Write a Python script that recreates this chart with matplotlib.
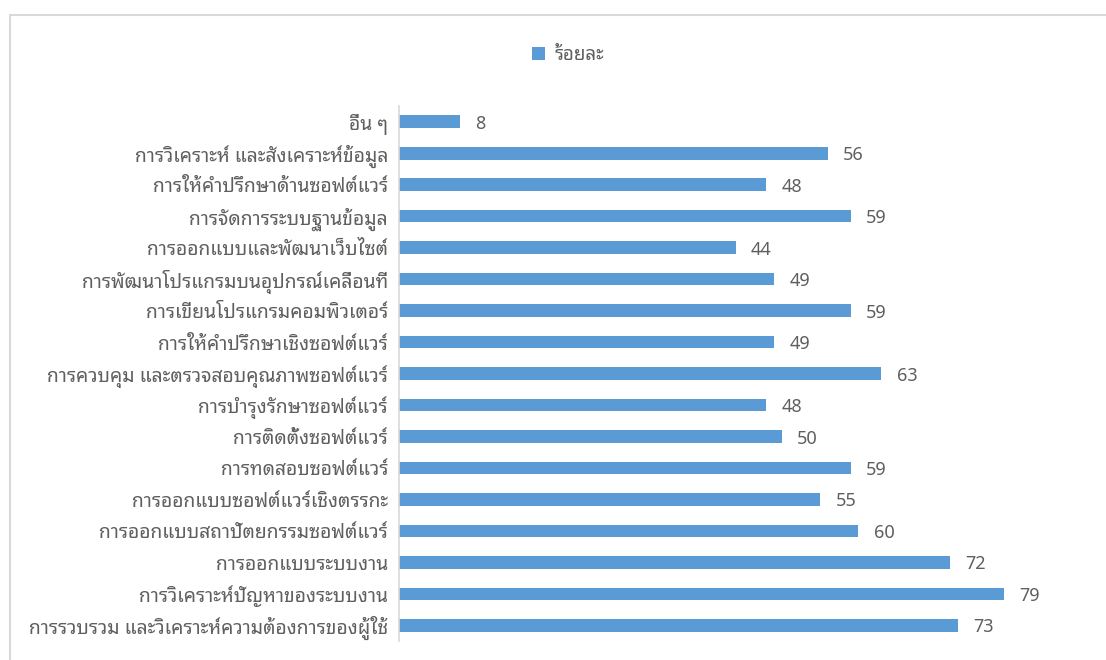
import matplotlib
matplotlib.use("Agg")
import matplotlib.pyplot as plt
from matplotlib.patches import Rectangle

categories = [
    "การรวบรวม และวิเคราะห์ความต้องการของผู้ใช้",
    "การวิเคราะห์ปัญหาของระบบงาน",
    "การออกแบบระบบงาน",
    "การออกแบบสถาปัตยกรรมซอฟต์แวร์",
    "การออกแบบซอฟต์แวร์เชิงตรรกะ",
    "การทดสอบซอฟต์แวร์",
    "การติดตั้งซอฟต์แวร์",
    "การบำรุงรักษาซอฟต์แวร์",
    "การควบคุม และตรวจสอบคุณภาพซอฟต์แวร์",
    "การให้คำปรึกษาเชิงซอฟต์แวร์",
    "การเขียนโปรแกรมคอมพิวเตอร์",
    "การพัฒนาโปรแกรมบนอุปกรณ์เคลื่อนที่",
    "การออกแบบและพัฒนาเว็บไซต์",
    "การจัดการระบบฐานข้อมูล",
    "การให้คำปรึกษาด้านซอฟต์แวร์",
    "การวิเคราะห์ และสังเคราะห์ข้อมูล",
    "อื่น ๆ",
]
values = [73, 79, 72, 60, 55, 59, 50, 48, 63, 49, 59, 49, 44, 59, 48, 56, 8]
series_name = "ร้อยละ"

plt.rcParams['font.family'] = ['Noto Sans Thai Looped', 'DejaVu Sans']
text_color = "#5F5F5F"
bar_color = "#5B9BD5"

fig = plt.figure(figsize=(11.06, 6.6), dpi=100)
# outer chart frame
fig.patches.append(Rectangle((10 / 1106, -0.05), 1.1, 1 - 15 / 660 + 0.05,
                             transform=fig.transFigure, fill=False,
                             edgecolor="#D9D9D9", linewidth=1.5))

ax = fig.add_axes([399 / 1106, 1 - 641 / 660, (1088 - 399) / 1106, (641 - 106) / 660])
y = list(range(len(categories)))
bars = ax.barh(y, values, height=0.4, color=bar_color, label=series_name)
ax.set_xlim(0, 90)
ax.set_ylim(-0.5, len(categories) - 0.5)
ax.set_yticks(y)
ax.set_yticklabels(categories, fontsize=13.9, color=text_color)
ax.tick_params(axis="y", length=0, pad=8)
ax.set_xticks([])
for s in ["top", "right", "bottom"]:
    ax.spines[s].set_visible(False)
ax.spines["left"].set_color("#D9D9D9")
ax.spines["left"].set_linewidth(1.2)

for yi, v in zip(y, values):
    ax.annotate(str(v), (v, yi), xytext=(11, -1.5), textcoords="offset points",
                va="center", ha="left", fontsize=13, color=text_color)

leg = fig.legend(handles=[bars], labels=[series_name], loc="center",
                 bbox_to_anchor=(568 / 1106, 1 - 55 / 660), frameon=False,
                 fontsize=13.5, handlelength=0.7, handleheight=0.7,
                 handletextpad=0.5)
for t in leg.get_texts():
    t.set_color(text_color)

fig.savefig("out.png", dpi=100)
